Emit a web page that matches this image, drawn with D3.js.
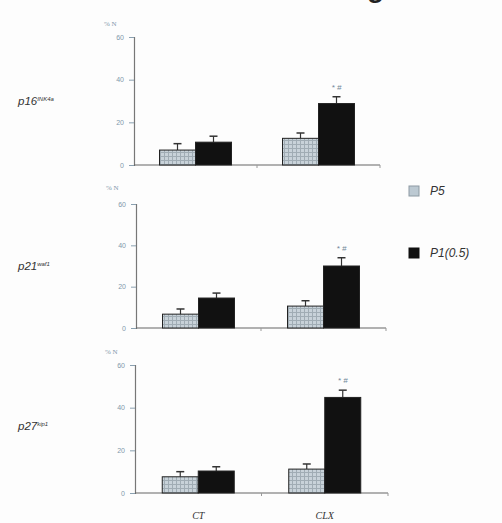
<!DOCTYPE html>
<html><head><meta charset="utf-8">
<script src="https://cdn.jsdelivr.net/npm/d3@7"></script>
<style>body{margin:0;background:#fdfdfd}svg{display:block}</style>
</head><body>
<script>
const categories = ["CT", "CLX"];
const seriesNames = ["P5", "P1(0.5)"];
const markers = ["p16", "p21", "p27"];
const markerSup = ["INK4a", "waf1", "kip1"];
const yTicks = [0, 20, 40, 60];
// values [marker][category] for each series
const p5Values = [[7, 12.5], [6.7, 10.6], [7.6, 11.2]];
const p5Errors = [[3, 2.5], [2.5, 2.6], [2.4, 2.4]];
const p1Values = [[10.7, 28.8], [14.5, 30], [10.3, 44.8]];
const p1Errors = [[2.8, 3.2], [2.4, 4], [2, 3.4]];
const significance = [["", "* #"], ["", "* #"], ["", "* #"]];

const W = 502, H = 523;
const svg = d3.select("body").append("svg").attr("width", W).attr("height", H);

const defs = svg.append("defs");
const pat = defs.append("pattern").attr("id", "dots").attr("patternUnits", "userSpaceOnUse")
  .attr("width", 4).attr("height", 4);
pat.append("rect").attr("width", 4).attr("height", 4).attr("fill", "#c8d2d9");
pat.append("rect").attr("x", 0).attr("y", 0).attr("width", 4).attr("height", 1).attr("fill", "#a0acb4");
pat.append("rect").attr("x", 0).attr("y", 0).attr("width", 1).attr("height", 4).attr("fill", "#a0acb4");

// cut-off page heading (only its lowest edge is visible in the reference)
svg.append("text").attr("x", 342).attr("y", -3).attr("font-family", "Liberation Sans, Arial, sans-serif")
  .attr("font-weight", "bold").attr("font-size", 28).attr("fill", "#222").text("Figure 2");

const panels = [
  {x0: 134, x1: 380, y0: 165, y1: 37, labelY: 105, unitY: 26},
  {x0: 136, x1: 386, y0: 328, y1: 204, labelY: 270, unitY: 190},
  {x0: 135, x1: 388, y0: 493, y1: 365, labelY: 430, unitY: 354}
];

const barW = 36;
panels.forEach((p, i) => {
  const g = svg.append("g");
  const x = d3.scaleBand().domain(categories).range([p.x0, p.x1]).padding(0);
  const y = d3.scaleLinear().domain([0, 60]).range([p.y0, p.y1]);
  const xs = d3.scaleBand().domain(seriesNames).paddingInner(0).paddingOuter(0);

  // y axis
  const yAxis = g.append("g").attr("transform", `translate(${p.x0},0)`)
    .call(d3.axisLeft(y).tickValues(yTicks).tickSize(5).tickPadding(5));
  yAxis.select(".domain").attr("stroke", "#777").attr("stroke-width", 1.2);
  yAxis.selectAll(".tick line").attr("stroke", "#8aa0b0");
  yAxis.selectAll(".tick text").attr("fill", "#7f98ab").attr("font-size", 7)
    .attr("font-family", "Liberation Sans, Arial, sans-serif");

  // x axis
  const xAxisG = g.append("g").attr("transform", `translate(0,${p.y0})`);
  xAxisG.append("line").attr("x1", p.x0).attr("x2", p.x1).attr("stroke", "#666").attr("stroke-width", 1.2);
  xAxisG.selectAll("line.t").data(categories).join("line").attr("class", "t")
    .attr("x1", d => x(d) + x.bandwidth()).attr("x2", d => x(d) + x.bandwidth())
    .attr("y1", 0).attr("y2", 3).attr("stroke", "#999");

  categories.forEach((c, ci) => {
    const cx = x(c) + x.bandwidth() / 2;
    xs.range([cx - barW, cx + barW]);
    const data = [
      {s: seriesNames[0], v: p5Values[i][ci], e: p5Errors[i][ci], fill: "url(#dots)"},
      {s: seriesNames[1], v: p1Values[i][ci], e: p1Errors[i][ci], fill: "#111"}
    ];
    // error bars
    data.forEach(d => {
      const mx = xs(d.s) + xs.bandwidth() / 2;
      g.append("line").attr("x1", mx).attr("x2", mx).attr("y1", y(d.v)).attr("y2", y(d.v + d.e))
        .attr("stroke", "#333").attr("stroke-width", 1.2);
      g.append("line").attr("x1", mx - 4).attr("x2", mx + 4).attr("y1", y(d.v + d.e)).attr("y2", y(d.v + d.e))
        .attr("stroke", "#333").attr("stroke-width", 1.5);
    });
    g.selectAll(null).data(data).join("rect")
      .attr("x", d => xs(d.s)).attr("width", xs.bandwidth())
      .attr("y", d => y(d.v)).attr("height", d => y(0) - y(d.v))
      .attr("fill", d => d.fill).attr("stroke", "#222").attr("stroke-width", 1);
    if (significance[i][ci]) {
      const d = data[1];
      g.append("text").attr("x", xs(d.s) + xs.bandwidth() / 2).attr("y", y(d.v + d.e) - 7)
        .attr("text-anchor", "middle").attr("font-size", 8).attr("font-style", "italic")
        .attr("fill", "#6f8798").attr("font-family", "Liberation Sans, Arial, sans-serif")
        .text(significance[i][ci]);
    }
  });

  // unit label
  g.append("text").attr("x", p.x0 - 30).attr("y", p.unitY).attr("font-size", 7)
    .attr("fill", "#7f98ab").attr("font-family", "Liberation Serif, serif").text("% N");

  // row label
  const t = g.append("text").attr("x", 18).attr("y", p.labelY).attr("font-size", 11.5)
    .attr("font-style", "italic").attr("fill", "#333").attr("font-family", "Liberation Sans, Arial, sans-serif");
  t.append("tspan").text(markers[i]);
  t.append("tspan").attr("dy", -4).attr("font-size", 6).text(markerSup[i]);
});

// category labels
const xb = d3.scaleBand().domain(categories).range([135, 388]);
svg.selectAll("text.cat").data(categories).join("text").attr("class", "cat")
  .attr("x", d => xb(d) + xb.bandwidth() / 2).attr("y", 519).attr("text-anchor", "middle")
  .attr("font-size", 10).attr("font-style", "italic").attr("fill", "#333")
  .attr("font-family", "Liberation Serif, serif").text(d => d);

// legend
const legY = [191, 253];
seriesNames.forEach((s, i) => {
  svg.append("rect").attr("x", 409).attr("y", legY[i] - 5).attr("width", 10).attr("height", 10)
    .attr("fill", i === 0 ? "#bcc9d2" : "#111").attr("stroke", i === 0 ? "#8d9aa3" : "#111");
  svg.append("text").attr("x", 430).attr("y", legY[i] + 4).attr("font-size", 12)
    .attr("font-style", "italic").attr("fill", "#333")
    .attr("font-family", "Liberation Sans, Arial, sans-serif").text(s);
});
</script>
</body></html>
